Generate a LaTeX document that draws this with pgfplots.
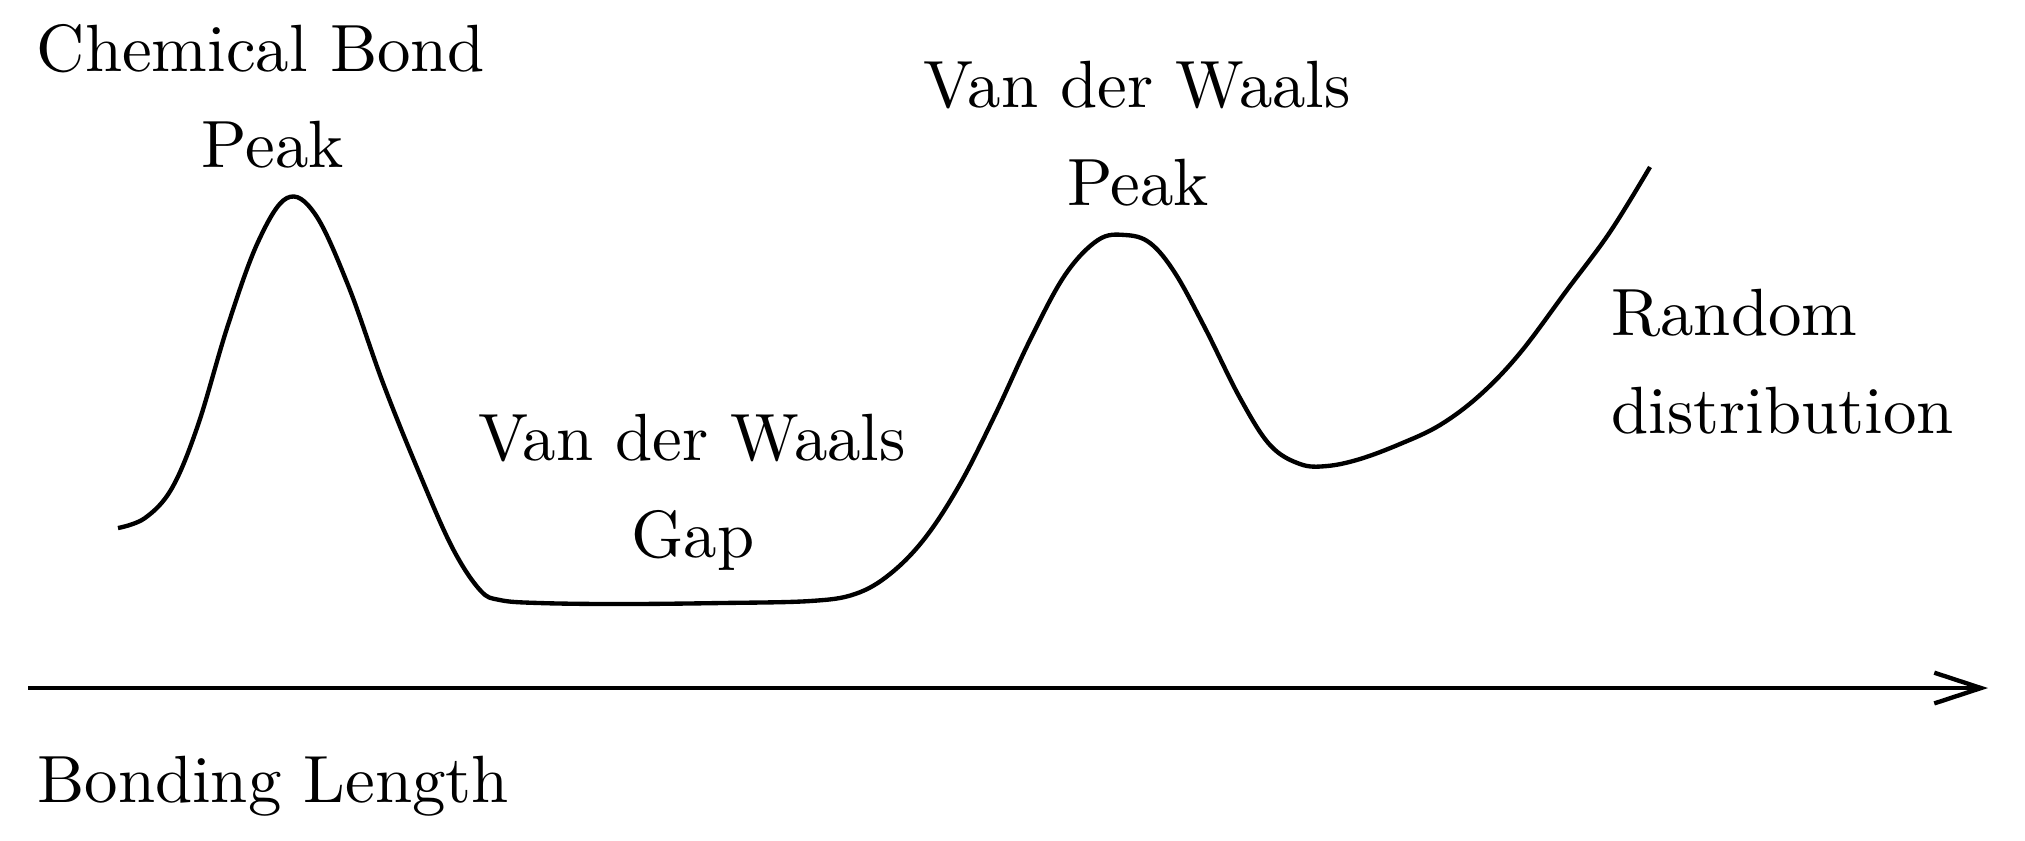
\documentclass[border=0pt]{standalone}
\usepackage{pgfplots}
\pgfplotsset{compat=1.18}
\usetikzlibrary{arrows.meta}
\begin{document}
\begin{tikzpicture}
\begin{axis}[
  scale only axis, width=303pt, height=125.7pt,
  xmin=0, xmax=2025, ymin=0, ymax=840,
  hide axis, clip=false,
]
\path (rel axis cs:0,0) rectangle (rel axis cs:1,1);
% curve
\addplot[black, line width=0.65pt, smooth, tension=0.6] coordinates {
(118,312) (145,322) (172,352) (198,415) (228,515) (258,598) (287,642)
(315,626) (348,555) (383,457) (418,370) (452,293) (480,250) (500,240)
(540,237) (620,236) (720,237) (810,239) (855,246) (890,266) (925,302)
(960,356) (995,425) (1030,500) (1065,565) (1098,600) (1125,605) (1150,597)
(1175,567) (1205,512) (1240,442) (1270,395) (1300,376) (1327,374)
(1360,381) (1400,396) (1440,415) (1480,445) (1520,487) (1567,550)
(1610,608) (1650,673)
};
% axis arrow
\addplot[black, line width=0.65pt, -{Straight Barb[length=7pt,width=4.6pt]}] coordinates {(28,152) (1988,152)};
% labels
\node[anchor=base] at (axis cs:261,768) {Chemical Bond};
\node[anchor=base] at (axis cs:273,672) {Peak};
\node[anchor=base] at (axis cs:1137,732) {Van der Waals};
\node[anchor=base] at (axis cs:1138,635) {Peak};
\node[anchor=base] at (axis cs:692,380) {Van der Waals};
\node[anchor=base] at (axis cs:693,283) {Gap};
\node[anchor=base west, inner sep=0pt] at (axis cs:1610,505) {Random};
\node[anchor=base west, inner sep=0pt] at (axis cs:1610,407) {distribution};
\node[anchor=base west, inner sep=0pt] at (axis cs:36,38) {Bonding Length};
\end{axis}
\end{tikzpicture}
\end{document}
